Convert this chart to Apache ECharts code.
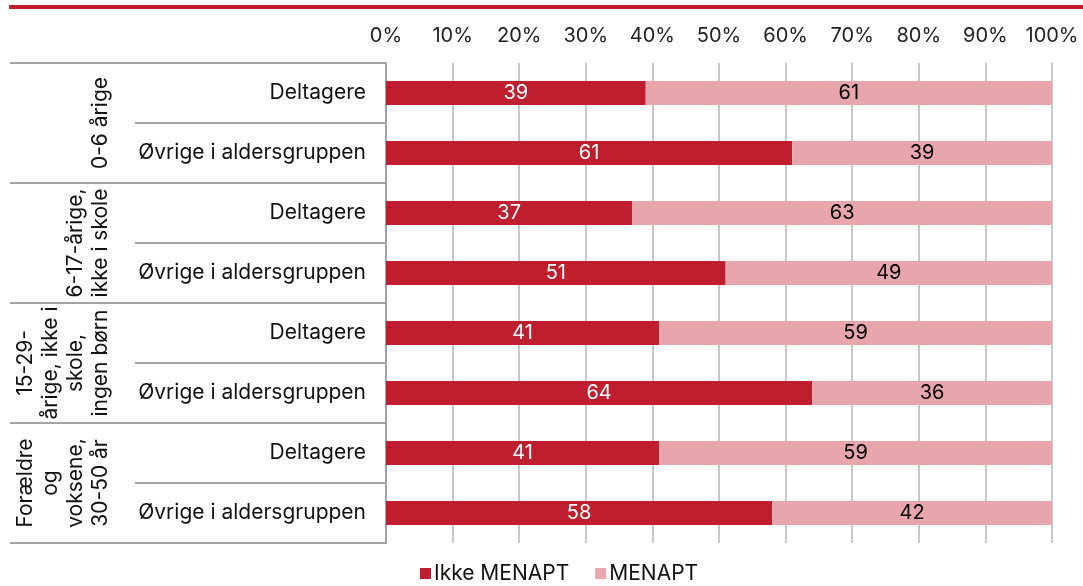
<!DOCTYPE html>
<html>
<head>
<meta charset="utf-8">
<script src="https://cdn.jsdelivr.net/npm/echarts@6/dist/echarts.min.js"></script>
<style>
  html, body { margin: 0; padding: 0; background: #ffffff; }
  #chart { width: 1083px; height: 586px; }
</style>
</head>
<body>
<div id="chart"></div>
<script>
// Rows (top to bottom) and their age-group headers
const rowLabels = [
  'Deltagere', 'Øvrige i aldersgruppen',
  'Deltagere', 'Øvrige i aldersgruppen',
  'Deltagere', 'Øvrige i aldersgruppen',
  'Deltagere', 'Øvrige i aldersgruppen'
];
const groupLabels = [
  '0-6 årige',
  '6-17-årige,\nikke i skole',
  '15-29-\nårige, ikke i\nskole,\ningen børn',
  'Forældre\nog\nvoksene,\n30-50 år'
];
// Shares in percent
const ikkeMenapt = [39, 61, 37, 51, 41, 64, 41, 58];
const menapt     = [61, 39, 63, 49, 59, 36, 59, 42];
const seriesNames = ['Ikke MENAPT', 'MENAPT'];

const FONT = 'Inter, "Noto Sans", sans-serif';
const DARK_RED = '#be1e2d';
const PINK = '#e8a6ac';
const RULE = '#a3a3a3';

const chart = echarts.init(document.getElementById('chart'), null, { renderer: 'canvas' });

chart.setOption({
  animation: false,
  textStyle: { fontFamily: FONT },
  graphic: [
    { type: 'rect', left: 9, top: 5, shape: { width: 1074, height: 4 }, style: { fill: DARK_RED }, silent: true }
  ],
  grid: { left: 386, right: 31, top: 63, bottom: 43, containLabel: false },
  legend: {
    top: 561,
    left: 415,
    padding: [2, 5, 2, 5],
    itemWidth: 11,
    itemHeight: 11,
    itemGap: 26,
    icon: 'rect',
    textStyle: { fontFamily: FONT, fontSize: 21, color: '#111', padding: [0, 0, 0, -2] },
    data: seriesNames
  },
  xAxis: {
    type: 'value',
    position: 'top',
    min: 0, max: 100, interval: 10,
    axisLine: { show: false },
    axisTick: { show: false },
    axisLabel: { formatter: '{value}%', fontFamily: FONT, fontSize: 20, color: '#222', margin: 17 },
    splitLine: { show: true, lineStyle: { color: '#c8c8c8', width: 2 } }
  },
  yAxis: [
    {
      type: 'category',
      inverse: true,
      position: 'left',
      data: rowLabels,
      axisLine: { show: true, lineStyle: { color: RULE, width: 2 } },
      axisTick: { show: true, interval: 0, length: 251, lineStyle: { color: RULE, width: 2 } },
      axisLabel: { interval: 0, margin: 20, fontFamily: FONT, fontSize: 21, color: '#111' }
    },
    {
      type: 'category',
      inverse: true,
      position: 'left',
      offset: 0,
      data: groupLabels,
      axisLine: { show: false },
      axisTick: { show: true, interval: 0, length: 376, lineStyle: { color: RULE, width: 2 } },
      axisLabel: { interval: 0, rotate: 90, margin: 273, fontFamily: FONT, fontSize: 21, lineHeight: 25, color: '#111', align: 'center' }
    }
  ],
  series: [
    {
      name: seriesNames[0],
      type: 'bar',
      stack: 'total',
      yAxisIndex: 0,
      barWidth: 24,
      data: ikkeMenapt,
      itemStyle: { color: DARK_RED },
      label: { show: true, position: 'inside', color: '#ffffff', fontFamily: FONT, fontSize: 20 }
    },
    {
      name: seriesNames[1],
      type: 'bar',
      stack: 'total',
      yAxisIndex: 0,
      barWidth: 24,
      data: menapt,
      itemStyle: { color: PINK },
      label: { show: true, position: 'inside', color: '#000000', fontFamily: FONT, fontSize: 20 }
    }
  ]
});
</script>
</body>
</html>
